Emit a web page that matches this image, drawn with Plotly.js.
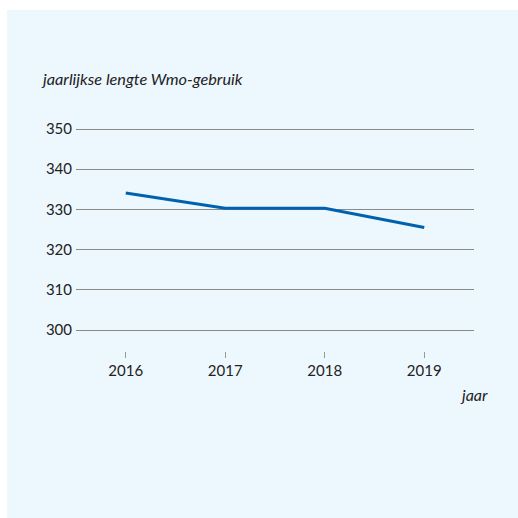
<!DOCTYPE html>
<html>
<head>
<meta charset="utf-8">
<script src="https://cdn.plot.ly/plotly-3.0.1.min.js"></script>
<style>
html,body{margin:0;padding:0;background:#ffffff;width:518px;height:518px;overflow:hidden;}
#chart{position:absolute;left:7px;top:10px;width:511px;height:508px;}
</style>
</head>
<body>
<div id="chart"></div>
<script>
const years = [2016, 2017, 2018, 2019];
const lengte = [334.1, 330.3, 330.3, 325.5];
const yTicks = [300, 310, 320, 330, 340, 350];
const xTicks = [2016, 2017, 2018, 2019];
const titleText = 'jaarlijkse lengte Wmo-gebruik';
const xTitleText = 'jaar';

const font = 'Lato, "Open Sans", sans-serif';
const data = [{
  x: years, y: lengte, type: 'scatter', mode: 'lines',
  line: {color: '#0062AE', width: 3},
  hoverinfo: 'skip'
}];
const layout = {
  width: 511, height: 508,
  paper_bgcolor: '#EDF7FE', plot_bgcolor: 'rgba(0,0,0,0)',
  margin: {l: 69, r: 44, t: 115, b: 167},
  showlegend: false,
  font: {family: font, size: 15, color: '#222222'},
  xaxis: {
    range: [2015.5, 2019.5], tickvals: xTicks, ticktext: xTicks.map(String),
    showgrid: false, zeroline: false, showline: false,
    ticks: 'outside', ticklen: 6, tickwidth: 1, tickcolor: '#999999',
    tickfont: {family: font, size: 15, color: '#222222'}
  },
  yaxis: {
    range: [294.8, 351], tickvals: yTicks, ticktext: yTicks.map(String),
    showgrid: true, gridcolor: '#8a8a8a', gridwidth: 1,
    zeroline: false, showline: false, ticks: '',
    ticklabelstandoff: 3,
    tickfont: {family: font, size: 15, color: '#222222'}
  },
  annotations: [
    {text: '<i>' + titleText + '</i>', xref: 'paper', yref: 'paper', x: -0.092, y: 1.0, xanchor: 'left', yanchor: 'bottom', yshift: 35, showarrow: false, font: {family: font, size: 16.3, color: '#222222'}},
    {text: '<i>' + xTitleText + '</i>', xref: 'paper', yref: 'paper', x: 1.0, y: 0, xanchor: 'left', yanchor: 'top', xshift: -16, yshift: -32, showarrow: false, font: {family: font, size: 16, color: '#222222'}}
  ]
};
Plotly.newPlot('chart', data, layout, {displayModeBar: false, staticPlot: true});
</script>
</body>
</html>
